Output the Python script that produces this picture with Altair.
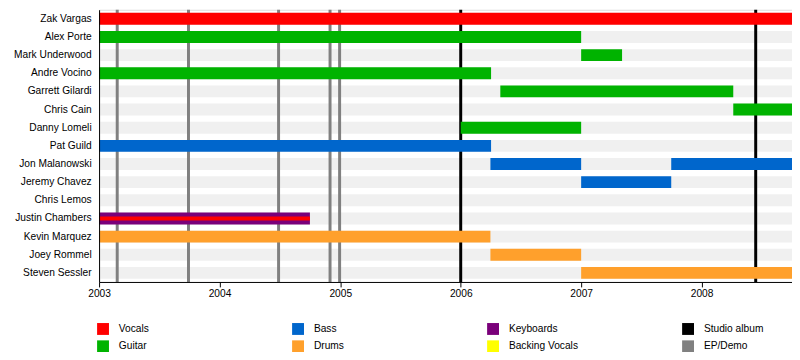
import altair as alt
import pandas as pd

# ---- data ----
members = ["Zak Vargas", "Alex Porte", "Mark Underwood", "Andre Vocino",
           "Garrett Gilardi", "Chris Cain", "Danny Lomeli", "Pat Guild",
           "Jon Malanowski", "Jeremy Chavez", "Chris Lemos", "Justin Chambers",
           "Kevin Marquez", "Joey Rommel", "Steven Sessler"]

timeline_start = "2003-01-01"
timeline_end = "2008-10-01"

bar_member = ["Zak Vargas", "Alex Porte", "Mark Underwood", "Andre Vocino",
              "Garrett Gilardi", "Chris Cain", "Danny Lomeli", "Pat Guild",
              "Jon Malanowski", "Jon Malanowski", "Jeremy Chavez",
              "Justin Chambers", "Kevin Marquez", "Joey Rommel", "Steven Sessler"]
bar_role = ["Vocals", "Guitar", "Guitar", "Guitar",
            "Guitar", "Guitar", "Guitar", "Bass",
            "Bass", "Bass", "Bass",
            "Keyboards", "Drums", "Drums", "Drums"]
bar_start = ["2003-01-01", "2003-01-01", "2007-01-01", "2003-01-01",
             "2006-05-01", "2008-04-06", "2006-01-01", "2003-01-01",
             "2006-04-01", "2007-10-01", "2007-01-01",
             "2003-01-01", "2003-01-01", "2006-04-01", "2007-01-01"]
bar_end = ["2008-10-01", "2007-01-01", "2007-05-05", "2006-04-03",
           "2008-04-06", "2008-10-01", "2007-01-01", "2006-04-03",
           "2007-01-01", "2008-10-01", "2007-10-01",
           "2004-10-01", "2006-04-01", "2007-01-01", "2008-10-01"]

inner_member = ["Justin Chambers"]
inner_role = ["Vocals"]
inner_start = ["2003-01-01"]
inner_end = ["2004-10-01"]

studio_albums = ["2006-01-01", "2008-06-13"]
ep_demos = ["2003-02-25", "2003-09-29", "2004-06-28", "2004-12-01", "2004-12-30"]

legend_order = ["Vocals", "Guitar", "Bass", "Drums",
                "Keyboards", "Backing Vocals", "Studio album", "EP/Demo"]
legend_colors = ["#ff0000", "#00b300", "#0066cc", "#ffa02c",
                 "#7a007a", "#ffff00", "#000000", "#808080"]

# ---- tables ----
stripes_df = pd.DataFrame({"member": members,
                           "start": [timeline_start] * len(members),
                           "end": [timeline_end] * len(members)})
bars_df = pd.DataFrame({"member": bar_member, "role": bar_role,
                        "start": bar_start, "end": bar_end})
inner_df = pd.DataFrame({"member": inner_member, "role": inner_role,
                         "start": inner_start, "end": inner_end})
studio_df = pd.DataFrame({"date": studio_albums})
ep_df = pd.DataFrame({"date": ep_demos})

FONT = "Liberation Sans"
FS = 10.3

xscale = alt.Scale(type="utc", domain=[timeline_start, timeline_end], nice=False)
yscale = alt.Scale(domain=members, paddingInner=0, paddingOuter=0)

xaxis = alt.Axis(title=None, format="%Y", tickCount="year", grid=False,
                 domainColor="#000", tickColor="#000", tickSize=5,
                 labelPadding=2, labelFontSize=FS, labelColor="#000",
                 labelFont=FONT, labelFlush=False, zindex=1)
yaxis = alt.Axis(title=None, ticks=False, grid=False, domainColor="#000",
                 labelPadding=8, labelFontSize=FS, labelColor="#000",
                 labelFont=FONT, labelLimit=200, zindex=1)

color = alt.Color("role:N",
                  scale=alt.Scale(domain=legend_order, range=legend_colors),
                  legend=alt.Legend(title=None, orient="none", legendX=-2,
                                    legendY=316.5, columns=4, gridAlign="all",
                                    symbolType="square", symbolSize=144,
                                    symbolStrokeWidth=0, symbolOpacity=1,
                                    labelOffset=10, columnPadding=105,
                                    rowPadding=5.5, labelFontSize=FS,
                                    labelFont=FONT, labelColor="#000",
                                    padding=0, offset=0))

stripes = alt.Chart(stripes_df).mark_bar(color="#f0f0f0", size=12).encode(
    y=alt.Y("member:N", scale=yscale, sort=members, axis=yaxis),
    x=alt.X("start:T", scale=xscale, axis=xaxis),
    x2="end:T",
)

ep_rules = alt.Chart(ep_df).mark_rule(color="#808080", strokeWidth=3).encode(
    x=alt.X("date:T", scale=xscale, axis=xaxis)
)
studio_rules = alt.Chart(studio_df).mark_rule(color="#000000", strokeWidth=3).encode(
    x=alt.X("date:T", scale=xscale, axis=xaxis)
)

bars = alt.Chart(bars_df).mark_bar(size=12).encode(
    y=alt.Y("member:N", scale=yscale, sort=members, axis=yaxis),
    x=alt.X("start:T", scale=xscale, axis=xaxis),
    x2="end:T",
    color=color,
)

inner = alt.Chart(inner_df).mark_bar(size=4).encode(
    y=alt.Y("member:N", scale=yscale, sort=members, axis=yaxis),
    x=alt.X("start:T", scale=xscale, axis=xaxis),
    x2="end:T",
    color=color,
)

chart = alt.layer(stripes, ep_rules, studio_rules, bars, inner).properties(
    width=700, height=275,
    autosize=alt.AutoSizeParams(type="none"),
    padding={"left": 92, "top": 0, "right": 0, "bottom": 69},
).configure_view(stroke=None).configure(font=FONT)

chart.save("out.html", embed_options={"renderer": "svg", "actions": False})
